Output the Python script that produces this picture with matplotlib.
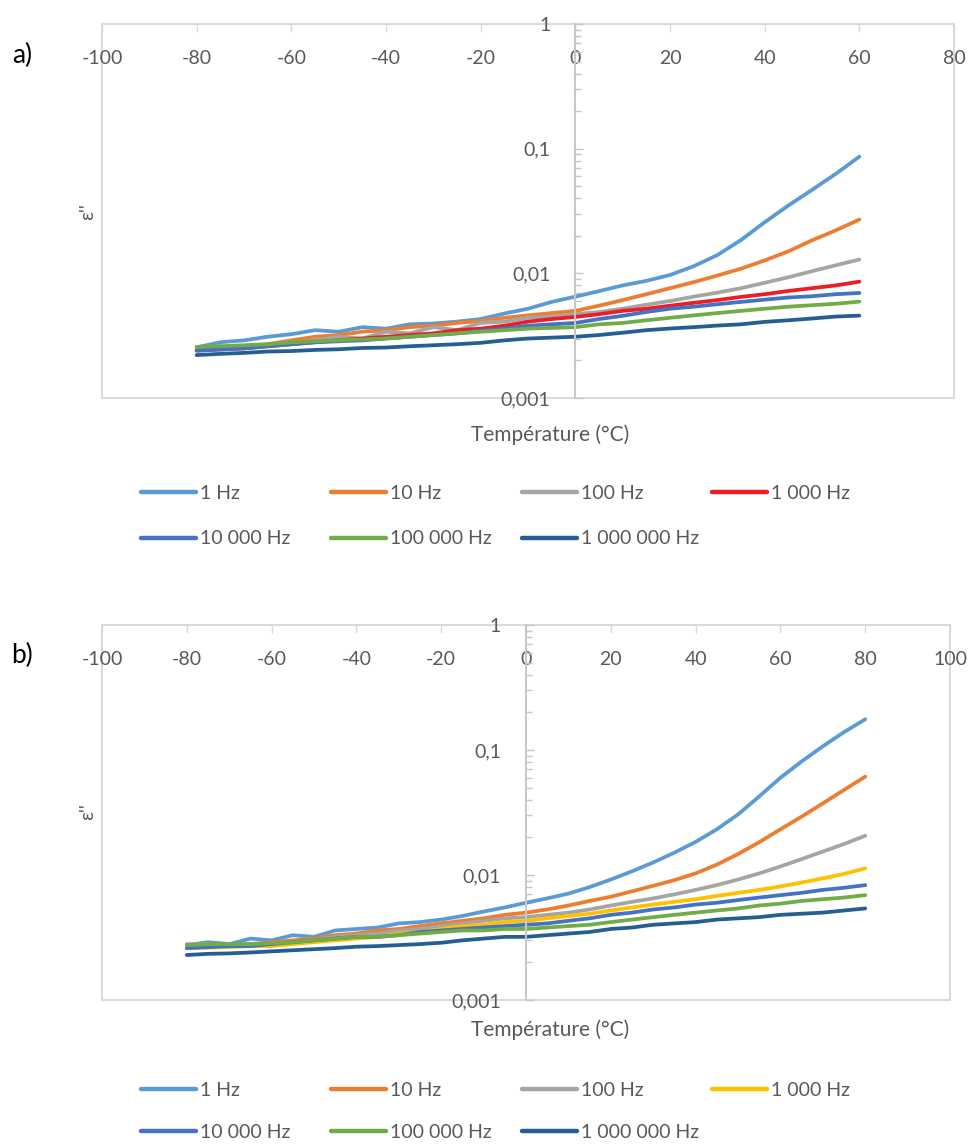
import numpy as np
import matplotlib
matplotlib.use("Agg")
import matplotlib.pyplot as plt
from matplotlib.patches import Rectangle
from matplotlib.ticker import FixedLocator, FixedFormatter, LogLocator, NullFormatter

plt.rcParams['font.family'] = ['Lato', 'DejaVu Sans']
plt.rcParams['axes.unicode_minus'] = False

W, H = 968, 1145

# ---- data: panel a (T = -80..60 step 5) ----
temp_a = [-80, -75, -70, -65, -60, -55, -50, -45, -40, -35, -30, -25, -20, -15, -10,
          -5, 0, 5, 10, 15, 20, 25, 30, 35, 40, 45, 50, 55, 60]
a_1hz = [0.00255, 0.0028, 0.0029, 0.0031, 0.00325, 0.0035, 0.0034, 0.0037, 0.0036, 0.0039,
         0.00396, 0.0041, 0.0043, 0.00476, 0.0052, 0.0059, 0.0065, 0.0072, 0.0080, 0.0087,
         0.0097, 0.0114, 0.0140, 0.0185, 0.0257, 0.035, 0.0467, 0.0627, 0.0863]
a_10hz = [0.00245, 0.0025, 0.0026, 0.0027, 0.0029, 0.0031, 0.0032, 0.0034, 0.0035, 0.0037,
          0.0038, 0.0040, 0.00415, 0.0044, 0.0046, 0.0048, 0.0050, 0.0055, 0.0061, 0.0068,
          0.0076, 0.0085, 0.0096, 0.0109, 0.0127, 0.0150, 0.0184, 0.0221, 0.0270]
a_100hz = [0.0025, 0.0026, 0.0025, 0.0027, 0.0028, 0.0029, 0.0031, 0.0030, 0.0034, 0.0033,
           0.0037, 0.0035, 0.0040, 0.0041, 0.0044, 0.0045, 0.0047, 0.0049, 0.0052, 0.0056,
           0.0060, 0.0065, 0.0070, 0.0076, 0.0084, 0.0093, 0.0104, 0.0116, 0.0129]
a_1khz = [0.0024, 0.00245, 0.0025, 0.0026, 0.0027, 0.0028, 0.0029, 0.0030, 0.0031, 0.0032,
          0.0033, 0.0035, 0.0036, 0.0038, 0.0041, 0.0043, 0.00447, 0.0047, 0.0050, 0.0052,
          0.0055, 0.0058, 0.0061, 0.00647, 0.0068, 0.00722, 0.0076, 0.0080, 0.00857]
a_10khz = [0.0024, 0.00245, 0.0025, 0.0026, 0.0027, 0.0028, 0.00285, 0.0029, 0.0030, 0.0031,
           0.0032, 0.0033, 0.00346, 0.0036, 0.0038, 0.0039, 0.0040, 0.0043, 0.00456, 0.0049,
           0.0052, 0.0054, 0.00565, 0.0059, 0.00615, 0.0064, 0.00655, 0.0068, 0.00696]
a_100khz = [0.00257, 0.0026, 0.00265, 0.0027, 0.0028, 0.00285, 0.0029, 0.00295, 0.0030, 0.0031,
            0.0032, 0.0033, 0.0034, 0.0035, 0.0036, 0.00365, 0.0037, 0.0039, 0.0040, 0.0042,
            0.0044, 0.0046, 0.0048, 0.0050, 0.0052, 0.0054, 0.00555, 0.0057, 0.00593]
a_1mhz = [0.00221, 0.00226, 0.0023, 0.00236, 0.00238, 0.00243, 0.00246, 0.00252, 0.00254, 0.0026,
          0.00265, 0.0027, 0.00277, 0.0029, 0.0030, 0.00305, 0.0031, 0.0032, 0.00334, 0.0035,
          0.00361, 0.0037, 0.00381, 0.0039, 0.00408, 0.0042, 0.00434, 0.0045, 0.00458]

# ---- data: panel b (T = -80..80 step 5) ----
temp_b = [-80, -75, -70, -65, -60, -55, -50, -45, -40, -35, -30, -25, -20, -15, -10, -5, 0,
          5, 10, 15, 20, 25, 30, 35, 40, 45, 50, 55, 60, 65, 70, 75, 80]
b_1hz = [0.00275, 0.0029, 0.0028, 0.0031, 0.0030, 0.0033, 0.0032, 0.0036, 0.0037, 0.0038,
         0.0041, 0.0042, 0.0044, 0.0047, 0.0051, 0.0055, 0.0060, 0.0065, 0.0071, 0.0080,
         0.0092, 0.0107, 0.0126, 0.0151, 0.0184, 0.0232, 0.0305, 0.0425, 0.0600, 0.081,
         0.107, 0.139, 0.176]
b_10hz = [0.0026, 0.0027, 0.0027, 0.0028, 0.0029, 0.0030, 0.0031, 0.0033, 0.0034, 0.0036,
          0.0037, 0.0039, 0.0041, 0.0043, 0.0045, 0.0048, 0.0050, 0.0053, 0.0057, 0.0062,
          0.0067, 0.0074, 0.0082, 0.0091, 0.0103, 0.0121, 0.0147, 0.0183, 0.0232, 0.0293,
          0.0374, 0.0479, 0.0612]
b_100hz = [0.0028, 0.0028, 0.0027, 0.0028, 0.0028, 0.0029, 0.0030, 0.0032, 0.0033, 0.0034,
           0.0036, 0.0037, 0.0039, 0.0041, 0.0043, 0.0045, 0.0046, 0.0048, 0.0050, 0.0053,
           0.0057, 0.0061, 0.0065, 0.0070, 0.0076, 0.0083, 0.0092, 0.0103, 0.0117, 0.0134,
           0.0154, 0.0177, 0.0206]
b_1khz = [0.0026, 0.00262, 0.00265, 0.0027, 0.0027, 0.0028, 0.0029, 0.0030, 0.0031, 0.0032,
          0.0034, 0.0035, 0.0037, 0.0039, 0.0040, 0.0042, 0.0043, 0.0045, 0.0047, 0.0049,
          0.0052, 0.0055, 0.0058, 0.0061, 0.0064, 0.0068, 0.0072, 0.0076, 0.0081, 0.0087,
          0.0094, 0.0102, 0.0113]
b_10khz = [0.0026, 0.00265, 0.0027, 0.0027, 0.0028, 0.0029, 0.0030, 0.0031, 0.0032, 0.0032,
           0.0033, 0.0035, 0.0036, 0.0037, 0.0038, 0.0039, 0.0040, 0.0041, 0.0043, 0.0045,
           0.0048, 0.0050, 0.0053, 0.0055, 0.0058, 0.0060, 0.0063, 0.0066, 0.0069, 0.0072,
           0.0076, 0.0079, 0.0083]
b_100khz = [0.00275, 0.0028, 0.0028, 0.0028, 0.00284, 0.0029, 0.0030, 0.0031, 0.0032, 0.0032,
            0.0033, 0.0034, 0.0035, 0.0036, 0.0036, 0.0037, 0.0037, 0.0038, 0.0039, 0.0040,
            0.0042, 0.0044, 0.0046, 0.0048, 0.0050, 0.0052, 0.0054, 0.0057, 0.0059, 0.0062,
            0.0064, 0.0066, 0.0069]
b_1mhz = [0.00229, 0.00234, 0.00236, 0.0024, 0.00245, 0.0025, 0.00255, 0.0026, 0.00267, 0.0027,
          0.00275, 0.0028, 0.00287, 0.0030, 0.0031, 0.0032, 0.0032, 0.0033, 0.0034, 0.0035,
          0.0037, 0.0038, 0.0040, 0.0041, 0.0042, 0.0044, 0.0045, 0.0046, 0.0048, 0.0049,
          0.0050, 0.0052, 0.0054]

labels = ["1 Hz", "10 Hz", "100 Hz", "1 000 Hz", "10 000 Hz", "100 000 Hz", "1 000 000 Hz"]
colors_a = ["#5B9BD5", "#ED7D31", "#A5A5A5", "#EE1C25", "#4472C4", "#70AD47", "#255E91"]
colors_b = ["#5B9BD5", "#ED7D31", "#A5A5A5", "#FFC000", "#4472C4", "#70AD47", "#255E91"]

x_ticks_a = [-100, -80, -60, -40, -20, 0, 20, 40, 60, 80]
x_ticks_b = [-100, -80, -60, -40, -20, 0, 20, 40, 60, 80, 100]
y_ticks = [0.001, 0.01, 0.1, 1]
y_ticklabels = ["0,001", "0,01", "0,1", "1"]

TXT = "#595959"
FRAME = "#D9D9D9"
AXIS = "#C6C6C6"

fig = plt.figure(figsize=(W / 100, H / 100), dpi=100)


def px_axes(left, top, right, bottom):
    return fig.add_axes([left / W, 1 - bottom / H, (right - left) / W, (bottom - top) / H])


def draw_panel(ax, temp, series, colors, xticks, xmax):
    for vals, col, lab in zip(series, colors, labels):
        ax.plot(temp, vals, color=col, lw=2.7, label=lab, solid_capstyle='round')
    ax.set_yscale('log')
    ax.set_ylim(0.001, 1)
    ax.set_xlim(-100, xmax)

    # frame of plot area
    ax.add_patch(Rectangle((0, 0), 1, 1, transform=ax.transAxes, fill=False,
                           ec=FRAME, lw=1.4, clip_on=False, zorder=0.5))
    for s in ['top', 'bottom', 'right']:
        ax.spines[s].set_visible(False)
    ax.spines['left'].set_position(('data', 0))
    ax.spines['left'].set_color(AXIS)
    ax.spines['left'].set_linewidth(1.4)

    # x axis on top, labels drawn inside
    ax.xaxis.set_ticks_position('top')
    ax.xaxis.set_major_locator(FixedLocator(xticks))
    ax.tick_params(axis='x', which='major', direction='in', length=6, width=1,
                   color=FRAME, pad=-31, labelsize=14, labelcolor=TXT)

    # y axis at x = 0
    ax.yaxis.set_ticks_position('left')
    ax.yaxis.set_major_locator(FixedLocator(y_ticks))
    ax.yaxis.set_major_formatter(FixedFormatter(y_ticklabels))
    ax.yaxis.set_minor_locator(LogLocator(base=10, subs=np.arange(2, 10)))
    ax.yaxis.set_minor_formatter(NullFormatter())
    ax.tick_params(axis='y', which='major', direction='in', length=6, width=1,
                   color=AXIS, pad=18, labelsize=14, labelcolor=TXT)
    ax.tick_params(axis='y', which='minor', direction='in', length=4, width=1, color=AXIS)


def add_legend(ax, top_px, spacing):
    handles, labs = ax.get_legend_handles_labels()
    col_x = [141, 331, 522, 712]
    for c, x0 in enumerate(col_x):
        idx = [i for i in (c, c + 4) if i < len(handles)]
        leg = fig.legend([handles[i] for i in idx], [labs[i] for i in idx],
                         loc='upper left', bbox_to_anchor=(x0 / W, 1 - top_px / H),
                         frameon=False, fontsize=14, handlelength=2.85, handletextpad=0.2,
                         borderpad=0, borderaxespad=0, labelspacing=spacing, labelcolor=TXT)
        for line in leg.get_lines():
            line.set_linewidth(3.2)


ax_a = px_axes(102, 24, 954, 398)
draw_panel(ax_a, temp_a, [a_1hz, a_10hz, a_100hz, a_1khz, a_10khz, a_100khz, a_1mhz],
           colors_a, x_ticks_a, 80)
ax_b = px_axes(102, 625, 950, 1000)
draw_panel(ax_b, temp_b, [b_1hz, b_10hz, b_100hz, b_1khz, b_10khz, b_100khz, b_1mhz],
           colors_b, x_ticks_b, 100)

add_legend(ax_a, 485, 1.46)
add_legend(ax_b, 1082, 1.3)

# titles and panel letters
for yc, ylab_y, letter_y, letter in [(435, 212, 55, "a)"), (1030, 812, 655, "b)")]:
    fig.text(550 / W, 1 - yc / H, "Température (°C)", ha='center', va='center',
             fontsize=15, color=TXT)
    fig.text(88 / W, 1 - ylab_y / H, "ε''", ha='center', va='center', rotation=90,
             fontsize=14, color=TXT)
    fig.text(22 / W, 1 - letter_y / H, letter, ha='center', va='center',
             fontsize=19, color='black')

fig.savefig("out.png", dpi=100)
